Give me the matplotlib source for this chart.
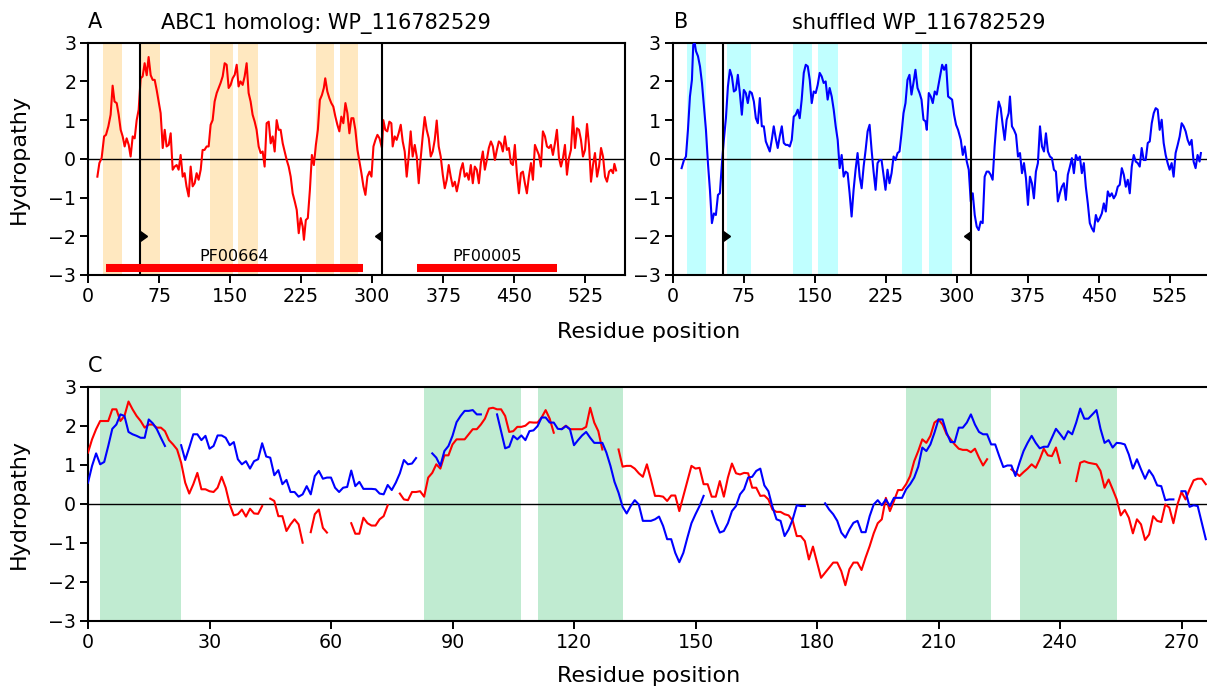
import numpy as np
import matplotlib
matplotlib.use("Agg")
import matplotlib.pyplot as plt
from matplotlib.markers import CARETRIGHTBASE, CARETLEFTBASE

nan = np.nan

# ---------------- Panel A : ABC1 homolog (red) ----------------
a_pos = [9.9, 12, 14.4, 17, 19, 21.5, 23.9, 26, 28, 30.3, 32.4, 34.5, 36.6, 38.7, 40.8, 43, 45, 47.2, 49.3, 51.4,
         53.5, 55.6, 57.7, 59.8, 62, 64, 66.2, 68.3, 70.4, 72.5, 74.6, 76.7, 78.9, 81, 83, 85.2, 87.3, 89.4, 91.5, 93.6,
         95.7, 97.8, 100, 102, 104, 106.3, 108.4, 110.5, 112.6, 114.7, 116.8, 119, 121, 123, 125.3, 127.4, 129.5, 131.6, 133.7, 135.9,
         138, 140, 142.2, 144.3, 146.4, 148.5, 150.6, 152.7, 154.9, 157, 159, 161, 163.3, 165.4, 167.5, 169.6, 171.7, 173.8, 176, 178,
         180.2, 182.3, 184.4, 186.5, 188.6, 190.8, 192.9, 195, 197.1, 199.2, 201.3, 203.4, 205.6, 207.7, 209.8, 211.9, 214, 216.1, 218.3, 220.4,
         222.5, 224.6, 226.7, 228, 230, 232.1, 234.3, 236.4, 238.5, 240.6, 242.7, 244.8, 247, 249, 250.5, 252.7, 254.8, 256.9, 259, 261.2,
         263.3, 265.4, 267.5, 269.6, 271.8, 273.9, 276, 278.1, 280.2, 282.3, 284.5, 286.6, 288.7, 290.8, 292.9, 295, 297.2, 299.3, 301.4, 303.5,
         305.6, 307.8, 310.4, 311.8, 313.9, 316, 318.2, 320.3, 321.7, 323.8, 325.9, 328, 330.2, 332.3, 334.4, 336.5, 338.6, 340.7, 342.8, 345,
         347.1, 349.2, 351.3, 353.4, 355.5, 357.6, 359.8, 361.9, 364, 366.1, 368.2, 370.3, 372.4, 374.6, 376.7, 378.8, 380.9, 383, 385.1, 387.3,
         389.4, 391.5, 393.6, 395.7, 397.8, 400, 402, 404.2, 406.3, 408.4, 410.5, 412.7, 414.8, 416.9, 419, 421.1, 423.2, 425.4, 427.5, 429.6,
         431.7, 433.8, 435.9, 438, 440.2, 442.3, 444.4, 446.5, 448.6, 450.7, 452.8, 455, 457.1, 459.2, 461.3, 463.4, 465.5, 467.7, 469.8, 471.9,
         474, 476.1, 478.2, 480.3, 482.5, 484.6, 486.7, 488.8, 490.9, 493, 495.1, 497.3, 499.4, 501.5, 503.6, 505.7, 507.8, 509.9, 512.1, 514.2,
         516.3, 518.4, 520.5, 522.6, 524.8, 526.9, 529, 531.1, 533.2, 535.3, 537.5, 539.6, 541.7, 543.8, 545.9, 548, 550.2, 552.3, 554.4, 555.8,
         557.6]
a_hyd = [-0.46, -0.11, 0.02, 0.58, 0.62, 0.84, 1.14, 1.89, 1.48, 1.44, 1.14, 0.75, 0.58, 0.32, 0.53, 0.36, 0.06, 0.58, 0.53, 1.0,
         1.27, 2.08, 2.13, 2.47, 2.16, 2.63, 2.16, 2.04, 2.04, 1.78, 1.48, 1.18, 0.28, 0.75, 0.32, 0.36, 0.66, -0.28, -0.2, -0.16,
         -0.28, 0.10, -0.46, -0.37, -0.71, -0.97, -0.2, -0.71, -0.63, -0.37, -0.54, -0.28, 0.23, 0.23, 0.32, 0.32, 0.88, 1.0, 1.48, 1.7,
         1.83, 1.96, 2.13, 2.47, 2.43, 1.83, 1.91, 2.08, 2.17, 2.43, 1.87, 2.0, 1.91, 2.13, 2.47, 1.70, 1.48, 1.14, 0.96, 0.75,
         0.32, 0.15, 0.19, -0.2, 0.92, 0.96, 0.40, 0.58, 0.19, 1.0, 0.75, 0.75, 0.40, 0.19, -0.03, -0.2, -0.46, -0.89, -1.1, -1.32,
         -1.92, -1.53, -1.75, -2.09, -1.58, -1.53, -0.8, 0.10, -0.16, 0.36, 0.75, 1.52, 1.65, 1.83, 2.08, 1.74, 1.57, 1.44, 1.35, 1.09,
         0.88, 0.71, 1.09, 0.92, 1.44, 1.18, 0.66, 1.05, 1.05, 0.75, 0.23, -0.07, -0.37, -0.71, -0.93, -0.46, -0.33, -0.46, 0.32, 0.49,
         0.62, 0.53, 0.28, 1.0, 0.75, 0.71, 0.96, 0.92, 0.32, 0.58, 0.49, 0.66, 0.88, 0.45, 0.19, -0.46, 0.06, 0.71, 0.06, 0.36,
         0.06, -0.63, 0.02, 0.58, 1.08, 0.75, 0.53, 0.06, 0.19, 0.49, 0.99, 0.32, 0.06, -0.41, -0.76, -0.54, -0.16, -0.46, -0.71, -0.59,
         -0.84, -0.59, -0.28, -0.11, -0.46, -0.37, -0.54, -0.16, -0.63, -0.2, -0.28, -0.63, -0.11, 0.19, -0.28, -0.03, 0.28, 0.45, 0.32, -0.03,
         0.23, 0.45, 0.40, 0.19, 0.58, 0.23, 0.28, -0.11, -0.16, 0.36, -0.37, -0.89, -0.37, -0.33, -0.63, -0.89, -0.46, -0.11, -0.54, 0.36,
         0.23, 0.10, -0.2, 0.71, 0.58, 0.32, 0.28, 0.36, 0.10, 0.40, 0.75, 0.02, -0.2, 0.02, 0.36, -0.41, 0.02, 0.23, 1.09, 0.28,
         0.79, 0.75, 0.49, 0.06, 0.23, 0.9, 0.36, -0.59, -0.16, 0.15, -0.46, -0.2, 0.28, 0.06, -0.46, -0.59, -0.33, -0.28, -0.37, -0.13,
         -0.3]
a_spans = [(16, 36), (55, 76), (129, 153), (158, 180), (241, 260), (266, 285)]
a_tm_bounds = [54.5, 310]
a_domains = [("PF00664", 19, 290), ("PF00005", 347, 495)]

# ---------------- Panel B : shuffled (blue) ----------------
b_pos = [9.4, 11.9, 14, 16.1, 18.2, 20.3, 21.7, 23.2, 24.6, 26.7, 28.8, 30.9, 33, 35.1, 37.2, 39.3, 41.4, 43.5, 45.6, 47.8,
         49.8, 52, 54, 56.2, 58.3, 60.4, 62.5, 64.6, 66.7, 68.8, 70.9, 73, 75.1, 77.2, 79.3, 81.4, 83.5, 85.7, 87.8, 89.9,
         92, 94.1, 96.2, 98.3, 100.4, 102.5, 104.6, 106.7, 108.8, 110.9, 113, 115.2, 117.3, 119.4, 121.5, 123.6, 125.7, 127.8, 129.9, 132,
         134.1, 136.2, 138.4, 140.5, 142.6, 144.7, 146.8, 148.9, 151, 153.1, 155.2, 157.3, 159.4, 161.5, 163.6, 165.7, 167.9, 170, 172.1, 174.2,
         176.3, 178.4, 180.5, 182.6, 184.7, 186.8, 188.9, 191, 193.1, 195.2, 197.4, 199.5, 201.6, 203.7, 205.8, 207.9, 210, 212.1, 214.2, 216.3,
         218.4, 220.5, 222.6, 224.7, 226.8, 228.9, 231.1, 233.2, 235.3, 237.4, 239.5, 241.6, 243.7, 245.8, 247.9, 250, 252.1, 254.2, 256.3, 258.5,
         260.6, 262.7, 264.8, 266.9, 268.3, 270.4, 272.5, 274.6, 276.7, 278.8, 281, 283.1, 284.5, 286.6, 288.7, 290.8, 292.9, 295, 297.1, 299.2,
         301.3, 304.2, 306.3, 308.4, 310.5, 312.6, 314.7, 316.8, 318.9, 321, 323.1, 325.2, 327.3, 329.4, 331.5, 333.6, 335.7, 337.8, 339.9, 342.1,
         344.2, 346.3, 348.4, 350.5, 352.6, 354.7, 356.1, 358.2, 360.3, 362.5, 364.6, 366.7, 368.8, 370.9, 373, 375.1, 377.2, 379.3, 381.4, 383.5,
         385.6, 387.8, 389.9, 392, 394.1, 396.2, 398.3, 400.4, 402.5, 404.6, 406.7, 408.8, 410.9, 413, 415.1, 417.2, 419.4, 421.5, 423.6, 425.7,
         427.8, 429.9, 432, 434.1, 436.2, 438.3, 440.4, 442.5, 444.6, 446.8, 448.9, 451, 453.1, 455.2, 457.3, 459.4, 461.5, 463.6, 465.7, 467.8,
         469.9, 472, 474.2, 476.3, 478.4, 480.5, 482.6, 484.7, 486.8, 488.9, 491, 493.1, 495.2, 497.3, 499.4, 501.6, 503.7, 505.8, 507.9, 510,
         512.1, 514.2, 516.3, 518.4, 520.5, 522.6, 524.7, 526.8, 528.9, 531, 533.2, 535.3, 537.4, 539.5, 541.6, 543.7, 545.8, 547.9, 550, 552.1,
         554.2, 556.3, 557.7]
b_hyd = [-0.24, -0.03, 0.06, 0.75, 1.61, 2.04, 2.95, 2.99, 2.78, 2.65, 2.39, 1.96, 1.35, 0.75, -0.11, -0.80, -1.66, -1.41, -1.45, -0.93,
         -0.89, -0.11, 0.49, 1.05, 1.87, 2.30, 2.13, 1.74, 1.78, 2.17, 1.70, 1.14, 1.78, 1.70, 1.44, 1.74, 1.70, 1.48, 1.05, 0.92,
         1.57, 0.84, 0.84, 0.45, 0.32, 0.19, 0.49, 0.84, 0.53, 0.28, 0.58, 0.84, 0.41, 0.36, 0.36, 0.32, 0.49, 1.09, 1.14, 1.27,
         1.05, 1.53, 2.22, 2.43, 2.39, 2.04, 1.44, 1.74, 1.70, 1.91, 2.22, 2.13, 1.96, 2.0, 1.53, 1.83, 1.61, 1.27, 0.84, 0.49,
         -0.24, 0.10, -0.46, -0.33, -0.37, -0.89, -1.49, -0.80, -0.28, 0.15, -0.46, -0.76, -0.20, 0.23, 0.71, 0.88, 0.23, -0.33, -0.80, -0.11,
         -0.03, -0.03, -0.41, -0.80, -0.28, -0.63, -0.37, 0.06, -0.03, 0.15, 0.19, 0.66, 1.18, 1.44, 2.04, 2.17, 1.66, 1.96, 2.30, 1.83,
         1.70, 1.53, 1.01, 0.97, 0.75, 1.70, 1.61, 1.44, 1.74, 1.66, 1.96, 2.26, 2.43, 2.30, 2.43, 1.61, 1.57, 1.53, 1.14, 0.88,
         0.75, 0.49, 0.10, 0.32, -0.07, -0.28, -1.10, -0.89, -1.45, -1.75, -1.84, -1.62, -1.66, -0.46, -0.33, -0.33, -0.41, -0.54, 0.32, 1.01,
         1.48, 1.31, 0.88, 0.49, 1.01, 1.18, 1.61, 0.84, 0.75, 0.62, 0.06, 0.15, -0.37, -0.11, -0.50, -1.19, -0.46, -0.63, -1.02, -0.33,
         -0.11, 0.84, 0.32, 0.19, 0.66, 0.19, 0.06, 0.02, -0.28, -0.33, -1.10, -0.89, -0.72, -0.63, -1.06, -0.41, -0.20, 0.02, -0.37, 0.10,
         -0.03, 0.06, -0.37, -0.11, -0.72, -1.15, -1.66, -1.79, -1.88, -1.45, -1.62, -1.53, -1.41, -1.15, -1.36, -0.84, -0.97, -0.89, -1.02, -0.93,
         -0.72, -0.67, -0.24, -0.41, -0.72, -0.54, -0.89, -0.20, 0.10, -0.07, -0.11, -0.20, 0.28, -0.03, -0.03, 0.41, 0.45, 0.92, 1.18, 1.31,
         1.27, 0.75, 1.01, 0.41, 0.10, -0.11, -0.28, -0.11, -0.46, 0.15, 0.36, 0.58, 0.92, 0.84, 0.71, 0.49, 0.36, 0.49, -0.07, -0.24,
         0.10, -0.07, 0.15]
b_spans = [(15, 35), (57, 83), (127.5, 147), (153, 175), (242, 263.5), (270.5, 294.5)]
b_tm_bounds = [53.2, 315]

# ---------------- Panel C : aligned region (red = homolog, blue = shuffled) ----------------
c_red = [1.31, 1.65, 1.91, 2.12, 2.12, 2.12, 2.42, 2.42, 2.12, 2.25, 2.62, 2.42, 2.25, 2.12, 1.95, 2.03, 2.03, 1.95, 1.95, 1.86,
         1.63, 1.52, 1.39, 1.05, 0.54, 0.26, 0.50, 0.79, 0.37, 0.37, 0.32, 0.30, 0.41, 0.69, 0.41, -0.02, -0.30, -0.27, -0.15, -0.33,
         -0.13, -0.25, -0.26, -0.06, nan, 0.13, 0.07, -0.32, -0.32, -0.70, -0.53, -0.40, -0.53, -1.00, nan, -0.73, -0.27, -0.15, -0.62, -0.74,
         nan, nan, nan, nan, nan, -0.50, -0.77, -0.77, -0.36, -0.50, -0.56, -0.56, -0.40, -0.32, -0.04, nan, nan, 0.26, 0.11, 0.09,
         0.30, 0.30, 0.32, 0.18, 0.67, 0.79, 1.01, 0.90, 1.24, 1.24, 1.52, 1.65, 1.65, 1.65, 1.78, 1.91, 1.91, 2.03, 2.18, 2.44,
         2.46, 2.42, 2.42, 2.25, 1.84, 1.86, 1.97, 1.97, 2.00, 2.09, 2.08, 2.08, 2.21, 2.40, 2.18, 1.82, nan, 1.92, 2.00, 1.91,
         1.91, 1.91, 1.91, 1.97, 2.46, 2.08, 1.86, 1.39, nan, nan, nan, 1.39, 0.95, 0.97, 0.97, 0.90, 0.78, 0.69, 1.01, 0.62,
         0.20, 0.20, 0.18, 0.07, 0.21, 0.21, -0.19, 0.20, 0.58, 0.97, 0.90, 0.92, 0.50, 0.50, 0.18, 0.18, 0.58, 0.18, 0.67, 1.03,
         0.78, 0.75, 0.79, 0.78, 0.41, 0.41, 0.20, 0.21, 0.11, -0.15, -0.21, -0.21, -0.27, -0.30, -0.44, -0.83, -0.83, -0.96, -1.43, -1.10,
         -1.50, -1.90, -1.77, -1.64, -1.51, -1.51, -1.73, -2.09, -1.68, -1.51, -1.51, -1.70, -1.38, -1.09, -0.76, -0.50, -0.40, 0.15, -0.19, 0.07,
         0.35, 0.35, 0.50, 0.71, 1.09, 1.35, 1.65, 1.56, 1.74, 2.08, 2.16, 2.03, 1.78, 1.65, 1.52, 1.41, 1.38, 1.38, 1.32, 1.41,
         1.18, 0.98, 1.14, nan, nan, nan, nan, nan, 0.88, 0.80, 0.71, 0.81, 0.90, 1.01, 0.92, 1.14, 1.41, 1.24, 1.22, 1.44,
         1.05, nan, nan, nan, 0.58, 1.05, 1.09, 1.05, 1.03, 1.01, 0.84, 0.41, 0.62, 0.37, 0.11, -0.30, -0.16, -0.36, -0.76, -0.40,
         -0.53, -0.93, -0.79, -0.32, -0.44, -0.47, -0.02, -0.10, -0.50, -0.02, 0.30, 0.11, 0.37, 0.60, 0.64, 0.64, 0.50]
c_blue = [0.54, 0.97, 1.29, 1.01, 1.07, 1.48, 1.92, 2.03, 2.29, 2.25, 1.84, 1.78, 1.74, 1.69, 1.69, 2.16, 2.06, 1.91, 1.69, 1.48,
          nan, nan, nan, 1.50, 1.12, 1.44, 1.78, 1.78, 1.63, 1.74, 1.41, 1.48, 1.75, 1.75, 1.69, 1.50, 1.58, 1.14, 1.01, 1.09,
          0.90, 1.09, 1.14, 1.55, 1.21, 1.18, 0.73, 0.86, 0.50, 0.61, 0.30, 0.30, 0.18, 0.24, 0.45, 0.24, 0.71, 0.84, 0.64, 0.67,
          0.67, 0.41, 0.30, 0.41, 0.43, 0.85, 0.45, 0.56, 0.38, 0.38, 0.38, 0.37, 0.26, 0.24, 0.48, 0.35, 0.54, 0.78, 1.12, 1.01,
          1.03, 1.17, nan, nan, nan, 1.29, 1.18, 0.97, 1.35, 1.48, 1.74, 2.09, 2.25, 2.38, 2.38, 2.40, 2.29, 2.29, nan, nan,
          nan, 2.29, 1.86, 1.42, 1.46, 1.74, 1.65, 1.75, 1.63, 1.86, 1.88, 1.99, 2.21, 2.21, 2.08, 2.08, 1.92, 1.91, 1.99, 1.91,
          1.50, 1.63, 1.75, 1.84, 1.69, 1.56, 1.56, 1.56, 1.31, 0.97, 0.56, 0.28, -0.08, -0.25, -0.06, 0.09, -0.02, -0.44, -0.44, -0.44,
          -0.40, -0.33, -0.57, -0.91, -0.91, -1.26, -1.50, -1.26, -0.87, -0.50, -0.27, -0.06, 0.20, nan, -0.19, -0.49, -0.74, -0.70, -0.50, -0.19,
          -0.06, 0.24, 0.37, 0.67, 0.69, 0.84, 0.90, 0.47, 0.32, -0.08, -0.40, -0.44, -0.83, -0.66, -0.40, -0.04, -0.06, -0.06, nan, nan,
          nan, nan, 0.01, -0.15, -0.27, -0.44, -0.74, -0.87, -0.66, -0.49, -0.44, -0.73, -0.73, -0.32, -0.02, 0.09, -0.04, 0.11, -0.06, 0.15,
          0.15, 0.15, 0.37, 0.50, 0.67, 0.95, 1.44, 1.35, 1.52, 1.82, 2.16, 2.16, 1.82, 1.58, 1.58, 1.95, 1.95, 2.08, 2.29, 2.03,
          1.84, 1.78, 1.78, 1.52, 1.52, 1.22, 0.94, 0.98, 0.98, 0.71, 1.05, 1.35, 1.56, 1.74, 1.56, 1.42, 1.46, 1.46, 1.69, 1.92,
          1.79, 1.65, 1.86, 1.78, 2.08, 2.44, 2.18, 2.18, 2.29, 2.40, 1.92, 1.56, 1.63, 1.44, 1.56, 1.55, 1.52, 1.26, 0.90, 1.14,
          0.88, 0.64, 0.86, 0.71, 0.47, 0.45, 0.09, 0.11, 0.11, nan, 0.32, 0.32, -0.08, -0.04, -0.06, -0.49, -0.91]
c_spans = [(3, 23), (83, 107), (111, 132), (202, 223), (230, 254)]

x_ticks_top = [0, 75, 150, 225, 300, 375, 450, 525]
x_ticks_c = [0, 30, 60, 90, 120, 150, 180, 210, 240, 270]
y_ticks = [-3, -2, -1, 0, 1, 2, 3]

# ---------------- Figure ----------------
W, H = 1207, 692
fig = plt.figure(figsize=(W / 100, H / 100), dpi=100)

def px_axes(left, top, right, bottom):
    return fig.add_axes([left / W, 1 - bottom / H, (right - left) / W, (bottom - top) / H])

axA = px_axes(88, 42.7, 625, 275)
axB = px_axes(672.7, 42.7, 1209.7, 275)
axC = px_axes(88, 386.7, 88 + 277 * 4.05, 620.7)

TICK_FS = 13.7
for ax in (axA, axB, axC):
    ax.set_ylim(-3, 3)
    ax.set_yticks(y_ticks)
    ax.tick_params(labelsize=TICK_FS, width=1.4, length=5.5, direction='out', pad=3)
    for s in ax.spines.values():
        s.set_linewidth(1.5)
    ax.axhline(0, color='black', lw=1.0, zorder=1)

# Panel A
axA.set_xlim(0, 567)
axA.set_xticks(x_ticks_top)
for lo, hi in a_spans:
    axA.axvspan(lo, hi, color='#ffe8c0', lw=0, zorder=0)
axA.plot(a_pos, a_hyd, color='red', lw=1.5, zorder=3)
for xb in a_tm_bounds:
    axA.axvline(xb, color='black', lw=1.5, zorder=4)
axA.plot([a_tm_bounds[0]], [-2], marker=CARETRIGHTBASE, color='black', ms=7, zorder=5)
axA.plot([a_tm_bounds[1]], [-2], marker=CARETLEFTBASE, color='black', ms=7, zorder=5)
for name, lo, hi in a_domains:
    axA.plot([lo, hi], [-2.81, -2.81], color='red', lw=5.8, solid_capstyle='butt', zorder=4)
    axA.text((lo + hi) / 2, -2.72, name, ha='center', va='bottom', fontsize=11.5)

# Panel B
axB.set_xlim(0, 567)
axB.set_xticks(x_ticks_top)
for lo, hi in b_spans:
    axB.axvspan(lo, hi, color='#c0ffff', lw=0, zorder=0)
axB.plot(b_pos, b_hyd, color='blue', lw=1.5, zorder=3)
for xb in b_tm_bounds:
    axB.axvline(xb, color='black', lw=1.5, zorder=4)
axB.plot([b_tm_bounds[0]], [-2], marker=CARETRIGHTBASE, color='black', ms=7, zorder=5)
axB.plot([b_tm_bounds[1]], [-2], marker=CARETLEFTBASE, color='black', ms=7, zorder=5)

# Panel C
c_x = np.arange(len(c_red))
axC.set_xlim(0, 277)
axC.set_xticks(x_ticks_c)
for lo, hi in c_spans:
    axC.axvspan(lo, hi, color='#c0ebd1', lw=0, zorder=0)
axC.plot(c_x, np.array(c_red, dtype=float), color='red', lw=1.5, zorder=3)
axC.plot(np.arange(len(c_blue)), np.array(c_blue, dtype=float), color='blue', lw=1.5, zorder=3)

# Texts
def ftext(x, y, s, **kw):
    fig.text(x / W, 1 - y / H, s, **kw)

ftext(88, 28.5, "A", fontsize=15, ha='left', va='baseline')
ftext(161, 28.5, "ABC1 homolog: WP_116782529", fontsize=15, ha='left', va='baseline')
ftext(674, 28.5, "B", fontsize=15, ha='left', va='baseline')
ftext(792, 28.5, "shuffled WP_116782529", fontsize=15, ha='left', va='baseline')
ftext(88, 372, "C", fontsize=15, ha='left', va='baseline')

ftext(649, 332, "Residue position", fontsize=16, ha='center', va='center')
ftext(649, 676, "Residue position", fontsize=16, ha='center', va='center')
ftext(19, 159, "Hydropathy", fontsize=16, ha='center', va='center', rotation=90)
ftext(19, 504, "Hydropathy", fontsize=16, ha='center', va='center', rotation=90)

fig.savefig("out.png", dpi=100)
